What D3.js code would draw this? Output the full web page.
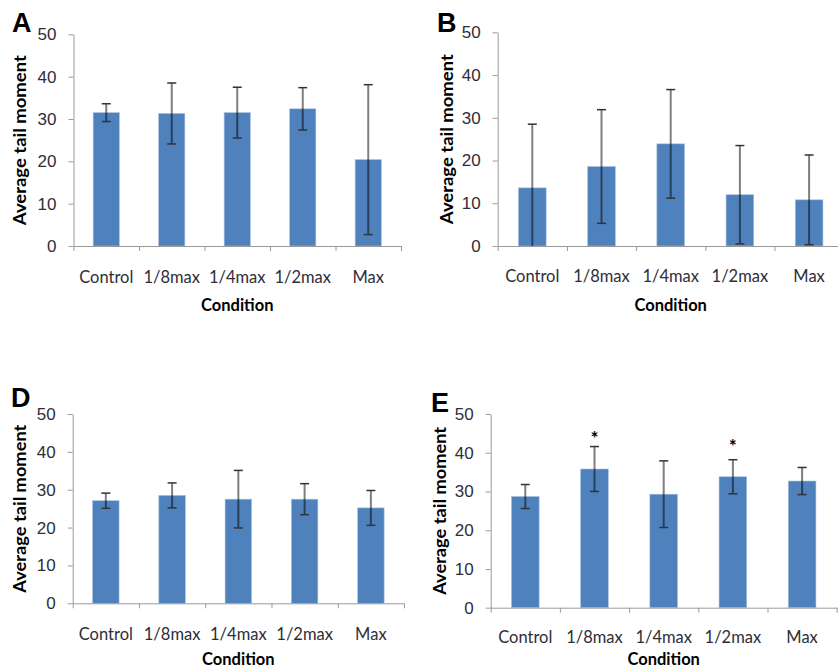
<!DOCTYPE html>
<html>
<head>
<meta charset="utf-8">
<script src="https://cdn.jsdelivr.net/npm/d3@7"></script>
<style>
  body { margin: 0; background: #fff; }
  svg { display: block; font-family: Lato, "Open Sans", sans-serif; }
</style>
</head>
<body>
<svg id="chart" width="838" height="670"></svg>
<script>
//============== data ===============//

const conditions = ["Control", "1/8max", "1/4max", "1/2max", "Max"]
const yTicks = [0, 10, 20, 30, 40, 50]

// means and error (+/-) per panel
const meanA = [31.5, 31.3, 31.5, 32.4, 20.4]
const errA  = [2.1, 7.2, 6.0, 5.0, 17.7]
const meanB = [13.6, 18.6, 23.9, 12.0, 10.8]
const errB  = [14.9, 13.3, 12.7, 11.5, 10.5]
const meanD = [27.1, 28.5, 27.5, 27.5, 25.2]
const errD  = [2.0, 3.3, 7.6, 4.1, 4.6]
const meanE = [28.7, 35.8, 29.3, 33.8, 32.7]
const errE  = [3.1, 5.8, 8.6, 4.4, 3.5]
// significance marks in panel E (value where the * sits)
const starsE = [{cond: "1/8max", value: 44.6}, {cond: "1/2max", value: 42.4}]

//============== layout ===============//

const panels = [
  {name: "A", mean: meanA, err: errA, stars: [],
   x0: 73.5, x1: 401, yTop: 34.3, yBot: 246, tickY: 283, titleY: 311, letter: [12, 32], yTitleX: 20},
  {name: "B", mean: meanB, err: errB, stars: [],
   x0: 497.7, x1: 843.7, yTop: 32.3, yBot: 246, tickY: 282, titleY: 311, letter: [437, 32], yTitleX: 446.7},
  {name: "D", mean: meanD, err: errD, stars: [],
   x0: 72.7, x1: 404, yTop: 414, yBot: 603.3, tickY: 640, titleY: 665, letter: [11, 407], yTitleX: 20},
  {name: "E", mean: meanE, err: errE, stars: starsE,
   x0: 490.7, x1: 836.7, yTop: 414, yBot: 607.7, tickY: 643, titleY: 665, letter: [431, 412], yTitleX: 440}
]

const svg = d3.select("#chart")
const axisColor = "#9a9a9a"
const textColor = "#2e2e38"

function drawPanel(p) {
  const g = svg.append("g")

  const y = d3.scaleLinear().domain([0, 50]).range([p.yBot, p.yTop])
  const x = d3.scaleBand().domain(conditions).range([p.x0, p.x1])
    .paddingInner(0.6).paddingOuter(0.3)
  const slot = d3.scaleLinear().domain([0, conditions.length]).range([p.x0, p.x1])

  // Y axis
  const yAxis = g.append("g")
    .attr("transform", `translate(${p.x0},0)`)
    .call(d3.axisLeft(y).tickValues(yTicks).tickSize(5).tickPadding(12).tickSizeOuter(0))
  yAxis.select(".domain").attr("stroke", axisColor)
  yAxis.selectAll(".tick line").attr("stroke", axisColor)
  yAxis.selectAll(".tick text").attr("fill", textColor).style("font-size", "17px")

  // bars
  const rows = conditions.map((c, i) => ({cond: c, mean: p.mean[i], err: p.err[i]}))
  g.selectAll("rect.bar")
    .data(rows)
    .join("rect")
      .attr("class", "bar")
      .attr("x", d => x(d.cond))
      .attr("width", x.bandwidth())
      .attr("y", d => y(d.mean))
      .attr("height", d => y(0) - y(d.mean))
      .attr("fill", "#4f81bd")
      .attr("stroke", "#a9c1df")
      .attr("stroke-width", 0.6)

  // X axis: category boundaries
  const xAxis = g.append("g")
    .attr("transform", `translate(0,${p.yBot})`)
    .call(d3.axisBottom(slot).tickValues(d3.range(conditions.length + 1)).tickFormat("").tickSize(5).tickSizeOuter(0))
  xAxis.select(".domain").attr("stroke", axisColor)
  xAxis.selectAll(".tick line").attr("stroke", axisColor)

  // category labels
  g.selectAll("text.cat")
    .data(conditions)
    .join("text")
      .attr("class", "cat")
      .attr("x", d => x(d) + x.bandwidth() / 2)
      .attr("y", p.tickY)
      .attr("text-anchor", "middle")
      .attr("fill", textColor)
      .style("font-size", "16.5px")
      .text(d => d)

  // error bars (clipped at the axis like the original)
  const cx = d => x(d.cond) + x.bandwidth() / 2
  const lo = d => Math.max(0, d.mean - d.err)
  g.selectAll("line.stem")
    .data(rows)
    .join("line")
      .attr("class", "stem")
      .attr("x1", cx).attr("x2", cx)
      .attr("y1", d => y(d.mean + d.err))
      .attr("y2", d => y(lo(d)))
      .attr("stroke", "#000")
      .attr("stroke-opacity", 0.5)
      .attr("stroke-width", 2)
  g.selectAll("line.capTop")
    .data(rows)
    .join("line")
      .attr("class", "capTop")
      .attr("x1", d => cx(d) - 4.5).attr("x2", d => cx(d) + 4.5)
      .attr("y1", d => y(d.mean + d.err)).attr("y2", d => y(d.mean + d.err))
      .attr("stroke", "#333")
      .attr("stroke-width", 1.5)
  g.selectAll("line.capBot")
    .data(rows.filter(d => d.mean - d.err > 0))
    .join("line")
      .attr("class", "capBot")
      .attr("x1", d => cx(d) - 4.5).attr("x2", d => cx(d) + 4.5)
      .attr("y1", d => y(lo(d))).attr("y2", d => y(lo(d)))
      .attr("stroke", "#333")
      .attr("stroke-width", 1.5)

  // asterisks
  g.selectAll("text.star")
    .data(p.stars)
    .join("text")
      .attr("class", "star")
      .attr("x", d => x(d.cond) + x.bandwidth() / 2)
      .attr("y", d => y(d.value) + 10)
      .attr("text-anchor", "middle")
      .attr("fill", "#000")
      .style("font-size", "19px")
      .style("font-weight", "bold")
      .text("*")

  // axis titles
  g.append("text")
    .attr("x", (p.x0 + p.x1) / 2)
    .attr("y", p.titleY)
    .attr("text-anchor", "middle")
    .attr("fill", "#000")
    .style("font-size", "16.5px")
    .style("font-weight", "bold")
    .text("Condition")

  g.append("text")
    .attr("transform", `translate(${p.yTitleX + 6},${(p.yTop + p.yBot) / 2}) rotate(-90)`)
    .attr("text-anchor", "middle")
    .attr("fill", "#000")
    .attr("textLength", p.yBot - p.yTop > 200 ? 170 : 168)
    .attr("lengthAdjust", "spacingAndGlyphs")
    .style("font-size", "16.5px")
    .style("font-weight", "bold")
    .text("Average tail moment")

  // panel letter
  g.append("text")
    .attr("x", p.letter[0])
    .attr("y", p.letter[1])
    .attr("fill", "#000")
    .style("font-size", "27px")
    .style("font-weight", "bold")
    .style("font-family", "Arial, 'Liberation Sans', sans-serif")
    .text(p.name)
}

panels.forEach(drawPanel)
</script>
</body>
</html>
